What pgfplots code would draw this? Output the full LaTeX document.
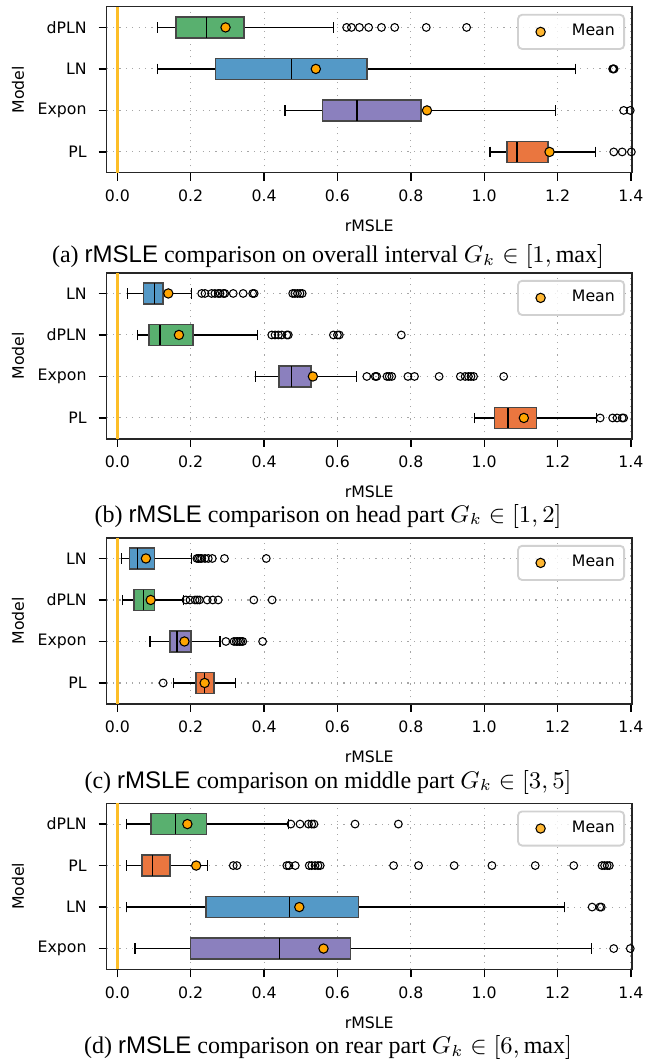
\documentclass[border=0pt]{standalone}
\usepackage{fontspec}
\setmainfont{Liberation Serif}
\newfontfamily\dejavu{DejaVu Sans}
\newfontfamily\capsans{Liberation Sans}
\usepackage{pgfplots}
\pgfplotsset{compat=1.18}
\usepgfplotslibrary{statistics}

\definecolor{cgreen}{RGB}{89,176,111}
\definecolor{cblue}{RGB}{84,153,199}
\definecolor{cpurple}{RGB}{139,128,190}
\definecolor{corange}{RGB}{234,118,63}
\definecolor{cmean}{HTML}{FFA500}
\definecolor{czero}{HTML}{FDBE28}

\newcommand{\axfont}{\dejavu\fontsize{5.9}{7}\selectfont}
\newcommand{\capfont}{\fontsize{9}{11}\selectfont}

\pgfplotsset{
  panel/.style={
    scale only axis, width=196.9pt, height=62.25pt, anchor=north west,
    xmin=-0.029, xmax=1.402, ymin=0.5, ymax=4.5,
    xtick={0,0.2,0.4,0.6,0.8,1.0,1.2,1.4},
    ytick={1,2,3,4},
    tick pos=left, tick align=outside, major tick length=3pt,
    tick style={black, line width=0.5pt},
    xticklabel style={/pgf/number format/.cd, fixed, fixed zerofill, precision=1},
    /pgf/number format/assume math mode=true,
    tick label style={font=\axfont},
    yticklabel style={xshift=-1pt},
    label style={font=\axfont},
    xlabel={rMSLE}, ylabel={Model},
    xlabel style={at={(axis description cs:0.5,-0.321)}, anchor=center},
    ylabel style={at={(axis description cs:-0.169,0.5)}, anchor=center, rotate=0},
    xmajorgrids, ymajorgrids,
    grid style={dotted, black!35, line width=0.4pt},
    axis line style={black!85, line width=0.6pt},
    legend style={at={(axis description cs:1,1)}, anchor=north east,
      xshift=-2.5pt, yshift=-2.7pt, draw=black!18, line width=0.7pt,
      rounded corners=1.5pt, fill=white, fill opacity=0.8, text opacity=1,
      font=\axfont, inner sep=1.5pt},
    legend image code/.code={\path (0pt,0pt) (16pt,0pt); \draw[##1] plot coordinates {(6.6pt,0pt)};},
  },
  boxplot/box extend=0.5,
  boxplot/whisker extend=0.25,
  boxplot/every whisker/.style={black, line width=0.45pt},
  boxplot/every median/.style={black, line width=0.5pt},
  bx/.style={fill=#1, draw=black!72, line width=0.6pt, mark=o, mark size=1.45pt,
    mark options={draw=black, line width=0.4pt}, forget plot},
  zero/.style={forget plot, czero, line width=1.1pt},
  means/.style={only marks, mark=*, mark size=1.75pt,
    mark options={fill=cmean, draw=black, line width=0.4pt}},
}

% color, position, lower whisker, Q1, median, Q3, upper whisker, outliers
\newcommand{\bx}[8]{%
  \addplot[bx=#1, boxplot prepared={draw position=#2, lower whisker=#3,
    lower quartile=#4, median=#5, upper quartile=#6, upper whisker=#7}]
    table[row sep=\\, y index=0] {v\\ #8};
}

\begin{document}
\begin{tikzpicture}
\path[use as bounding box] (0pt,0pt) rectangle (246.375pt,-398.625pt);

% (a) overall interval
\begin{axis}[panel, at={(40pt,-2.5pt)}, yticklabels={PL,Expon,LN,dPLN}]
\addplot[zero] coordinates {(0,0.5) (0,4.5)};
\bx{cgreen}{4}{0.110}{0.160}{0.243}{0.346}{0.589}{0.625\\0.638\\0.660\\0.685\\0.720\\0.756\\0.842\\0.952\\}
\bx{cblue}{3}{0.110}{0.268}{0.474}{0.680}{1.248}{1.350\\1.352\\1.354\\}
\bx{cpurple}{2}{0.457}{0.559}{0.653}{0.827}{1.194}{1.380\\1.398\\}
\bx{corange}{1}{1.016}{1.062}{1.089}{1.173}{1.303}{1.353\\1.376\\1.401\\}
\addplot[means] coordinates {(0.295,4) (0.541,3) (0.844,2) (1.178,1)};
\addlegendentry{Mean}
\end{axis}

% (b) head part
\begin{axis}[panel, at={(40pt,-102.26pt)}, yticklabels={PL,Expon,dPLN,LN}]
\addplot[zero] coordinates {(0,0.5) (0,4.5)};
\bx{cblue}{4}{0.028}{0.071}{0.101}{0.125}{0.203}{0.230\\0.239\\0.257\\0.266\\0.275\\0.280\\0.289\\0.293\\0.316\\0.343\\0.369\\0.373\\0.478\\0.484\\0.491\\0.498\\0.504\\}
\bx{cgreen}{3}{0.055}{0.086}{0.116}{0.206}{0.382}{0.421\\0.430\\0.439\\0.448\\0.462\\0.466\\0.589\\0.600\\0.605\\0.774\\}
\bx{cpurple}{2}{0.376}{0.440}{0.475}{0.528}{0.651}{0.680\\0.703\\0.707\\0.735\\0.741\\0.748\\0.792\\0.810\\0.877\\0.935\\0.948\\0.957\\0.964\\0.971\\1.053\\}
\bx{corange}{1}{0.973}{1.028}{1.065}{1.143}{1.307}{1.316\\1.350\\1.362\\1.376\\1.380\\}
\addplot[means] coordinates {(0.139,4) (0.168,3) (0.533,2) (1.108,1)};
\addlegendentry{Mean}
\end{axis}

% (c) middle part
\begin{axis}[panel, at={(40pt,-201.64pt)}, yticklabels={PL,Expon,dPLN,LN}]
\addplot[zero] coordinates {(0,0.5) (0,4.5)};
\bx{cblue}{4}{0.011}{0.033}{0.055}{0.101}{0.203}{0.217\\0.221\\0.226\\0.230\\0.239\\0.248\\0.259\\0.292\\0.406\\}
\bx{cgreen}{3}{0.015}{0.046}{0.071}{0.101}{0.180}{0.187\\0.198\\0.212\\0.218\\0.224\\0.245\\0.260\\0.275\\0.372\\0.422\\}
\bx{cpurple}{2}{0.089}{0.144}{0.163}{0.201}{0.280}{0.296\\0.318\\0.324\\0.328\\0.333\\0.337\\0.342\\0.396\\}
\bx{corange}{1}{0.153}{0.214}{0.237}{0.263}{0.323}{0.125\\}
\addplot[means] coordinates {(0.078,4) (0.091,3) (0.183,2) (0.238,1)};
\addlegendentry{Mean}
\end{axis}

% (d) rear part
\begin{axis}[panel, at={(40pt,-301.24pt)}, yticklabels={Expon,LN,PL,dPLN}]
\addplot[zero] coordinates {(0,0.5) (0,4.5)};
\bx{cgreen}{4}{0.024}{0.092}{0.159}{0.243}{0.466}{0.473\\0.498\\0.521\\0.530\\0.536\\0.648\\0.766\\}
\bx{corange}{3}{0.024}{0.068}{0.096}{0.143}{0.245}{0.316\\0.326\\0.462\\0.468\\0.485\\0.523\\0.530\\0.539\\0.547\\0.553\\0.753\\0.821\\0.918\\1.021\\1.139\\1.244\\1.321\\1.328\\1.335\\1.341\\}
\bx{cblue}{2}{0.024}{0.242}{0.469}{0.657}{1.219}{1.294\\1.315\\1.319\\}
\bx{cpurple}{1}{0.048}{0.199}{0.442}{0.636}{1.292}{1.353\\1.398\\}
\addplot[means] coordinates {(0.191,4) (0.215,3) (0.496,2) (0.562,1)};
\addlegendentry{Mean}
\end{axis}

\node[anchor=base, font=\capfont] at (123pt,-98.6pt) {(a) {\capsans rMSLE} comparison on overall interval $G_k\in[1,\max]$};
\node[anchor=base, font=\capfont] at (123pt,-195.8pt) {(b) {\capsans rMSLE} comparison on head part $G_k\in[1,2]$};
\node[anchor=base, font=\capfont] at (123pt,-295.5pt) {(c) {\capsans rMSLE} comparison on middle part $G_k\in[3,5]$};
\node[anchor=base, font=\capfont] at (123pt,-395.2pt) {(d) {\capsans rMSLE} comparison on rear part $G_k\in[6,\max]$};
\end{tikzpicture}
\end{document}
